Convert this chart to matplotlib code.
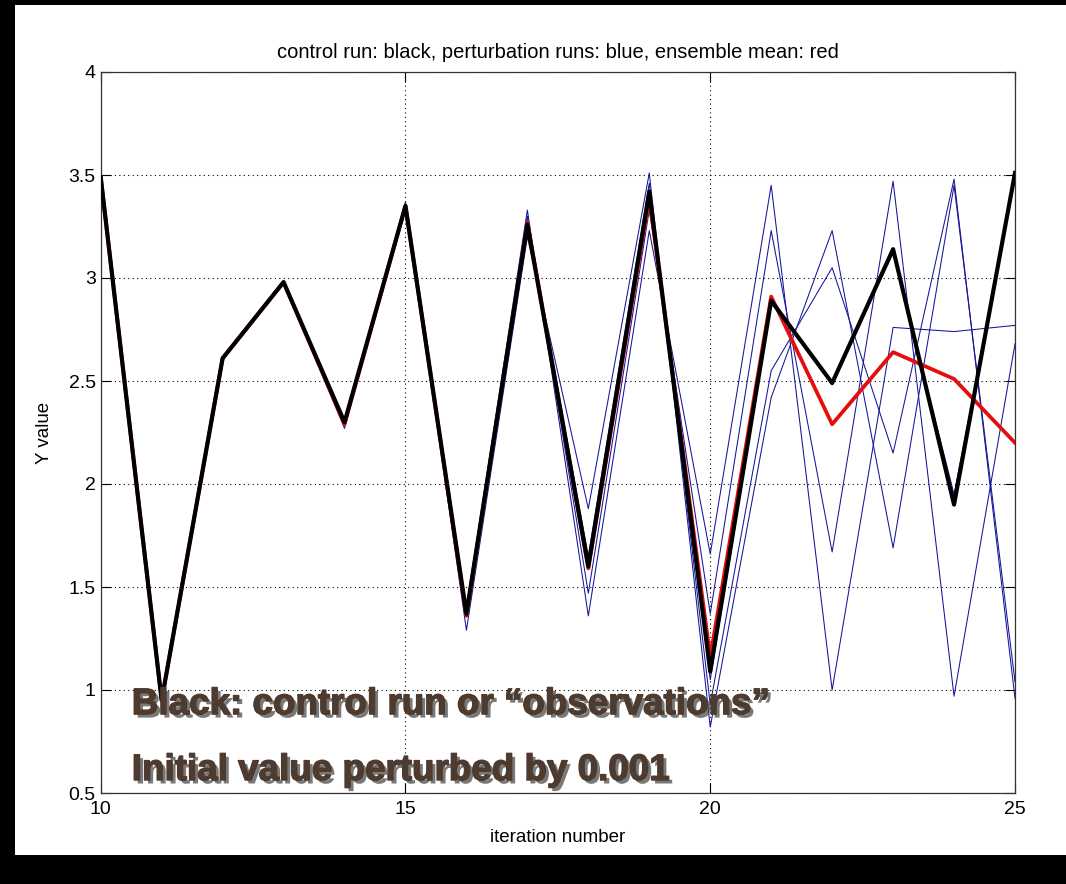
import matplotlib
matplotlib.use("Agg")
import matplotlib.pyplot as plt
import matplotlib.patheffects as pe
from matplotlib.patches import Rectangle

# iteration axis
iterations = list(range(10, 26))

# control run ("observations")
control = [3.49, 0.95, 2.61, 2.98, 2.30, 3.35, 1.37, 3.26, 1.60, 3.42,
           1.09, 2.89, 2.49, 3.14, 1.90, 3.51]

# perturbation runs (initial value perturbed by 0.001)
run_a = [3.49, 0.95, 2.61, 2.98, 2.29, 3.33, 1.40, 3.33, 1.36, 3.23,
         1.66, 3.45, 1.00, 2.76, 2.74, 2.77]
run_b = [3.49, 0.95, 2.61, 2.98, 2.295, 3.34, 1.38, 3.30, 1.47, 3.33,
         1.37, 3.23, 1.67, 3.47, 0.97, 2.68]
run_c = [3.49, 0.95, 2.61, 2.98, 2.30, 3.355, 1.36, 3.25, 1.65, 3.46,
         0.93, 2.55, 3.05, 2.15, 3.48, 0.96]
run_d = [3.49, 0.95, 2.61, 2.98, 2.27, 3.37, 1.29, 3.20, 1.88, 3.51,
         0.82, 2.42, 3.23, 1.69, 3.45, 1.04]
run_e = [3.49, 0.95, 2.61, 2.98, 2.30, 3.35, 1.37, 3.26, 1.60, 3.42,
         1.05, 2.88, 2.50, 3.12, 1.95, 3.48]

# ensemble mean
ens_mean = [3.49, 0.95, 2.61, 2.98, 2.29, 3.35, 1.36, 3.27, 1.59, 3.39,
            1.16, 2.91, 2.29, 2.64, 2.51, 2.20]

x_ticks = [10, 15, 20, 25]
y_ticks = [0.5, 1, 1.5, 2, 2.5, 3, 3.5, 4]
y_tick_labels = ['0.5', '1', '1.5', '2', '2.5', '3', '3.5', '4']

plt.rcParams['font.family'] = ['Liberation Sans', 'DejaVu Sans']

W, H = 1066, 884
fig = plt.figure(figsize=(W / 100, H / 100), dpi=100, facecolor='black')
# white "slide" area inside the black frame
bg = Rectangle((15 / W, 1 - 855 / H), 1 - 15 / W, (855 - 5) / H,
               transform=fig.transFigure, facecolor='white',
               edgecolor='none', zorder=-10)
fig.add_artist(bg)

ax = fig.add_axes([100.7 / W, 1 - 793 / H, (1015 - 100.7) / W, (793 - 72) / H])
ax.set_zorder(5)
ax.set_facecolor('white')

for run in [run_a, run_b, run_c, run_d, run_e]:
    ax.plot(iterations, run, color=(0.08, 0.08, 0.6), linewidth=0.75, zorder=2)
ax.plot(iterations, ens_mean, color=(0.9, 0.05, 0.05), linewidth=2.7, zorder=3)
ax.plot(iterations, control, color='black', linewidth=3.0, zorder=4)

ax.set_xlim(10, 25)
ax.set_ylim(0.5, 4)
ax.set_xticks(x_ticks)
ax.set_xticklabels([str(t) for t in x_ticks])
ax.set_yticks(y_ticks)
ax.set_yticklabels(y_tick_labels)
ax.grid(True, linestyle=(0, (1, 3)), color='black', linewidth=0.8)
ax.tick_params(direction='in', top=True, right=True, length=7, width=0.8,
               labelsize=14)
ax.tick_params(axis='x', pad=6)
for s in ax.spines.values():
    s.set_linewidth(0.9)
    s.set_color('#333333')

ax.set_xlabel('iteration number', fontsize=13.5)
ax.xaxis.set_label_coords(0.5, (793 - 838) / 721)
ax.xaxis.label.set_va('center')
ax.set_ylabel('Y value', fontsize=13.5)
ax.yaxis.set_label_coords((45 - 100.7) / 914, 0.5)
ax.yaxis.label.set_va('center')

fig.text(557.8 / W, 1 - 53 / H,
         'control run: black, perturbation runs: blue, ensemble mean: red',
         ha='center', va='center', fontsize=14.5)

# slide overlay text
text_color = '#4e3b2f'
shadow = [pe.withSimplePatchShadow(offset=(2.5, -2.5), shadow_rgbFace=(0.25, 0.25, 0.25), alpha=0.7),
          pe.Stroke(linewidth=1.0, foreground=text_color),
          pe.Normal()]
ax.text(10.51, 0.883, 'Black: control run or \u201cobservations\u201d',
        fontsize=26.5, fontweight='bold', color=text_color, ha='left',
        va='baseline', zorder=6, path_effects=shadow)
ax.text(10.51, 0.563, 'Initial value perturbed by 0.001',
        fontsize=26.5, fontweight='bold', color=text_color, ha='left',
        va='baseline', zorder=6, path_effects=shadow)

fig.savefig('out.png', dpi=100, facecolor='black')
